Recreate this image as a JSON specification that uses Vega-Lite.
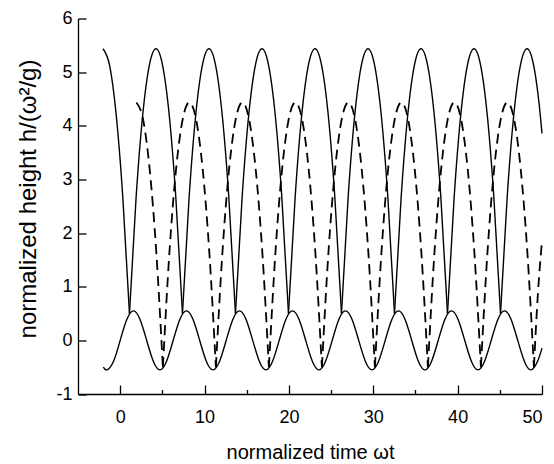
{
  "$schema": "https://vega.github.io/schema/vega-lite/v6.json",
  "width": 464,
  "height": 375.5,
  "autosize": {"type": "none"},
  "padding": {"left": 78, "top": 18.5, "right": 12, "bottom": 70},
  "background": "white",
  "config": {
    "view": {"stroke": null},
    "axis": {
      "domainColor": "black", "tickColor": "black", "labelColor": "black", "titleColor": "black",
      "labelFont": "Liberation Sans", "titleFont": "Liberation Sans",
      "labelFontSize": 18, "titleFontSize": 20, "titleFontWeight": "normal",
      "grid": false, "domainWidth": 1.3, "tickWidth": 1.3
    }
  },
  "datasets": {
    "table": [
      {"t":-2,"h":-0.5},{"t":-1.571,"h":-0.55},{"t":-0.785,"h":-0.389},{"t":0,"h":0},{"t":0.785,"h":0.389},{"t":1.571,"h":0.55},{"t":2.356,"h":0.389},{"t":3.142,"h":0},{"t":3.927,"h":-0.389},{"t":4.712,"h":-0.55},{"t":5.498,"h":-0.389},{"t":6.283,"h":0},{"t":7.069,"h":0.389},{"t":7.854,"h":0.55},{"t":8.639,"h":0.389},{"t":9.425,"h":0},{"t":10.21,"h":-0.389},{"t":10.996,"h":-0.55},{"t":11.781,"h":-0.389},{"t":12.566,"h":0},{"t":13.352,"h":0.389},{"t":14.137,"h":0.55},{"t":14.923,"h":0.389},{"t":15.708,"h":0},{"t":16.493,"h":-0.389},{"t":17.279,"h":-0.55},{"t":18.064,"h":-0.389},{"t":18.85,"h":0},{"t":19.635,"h":0.389},{"t":20.42,"h":0.55},{"t":21.206,"h":0.389},{"t":21.991,"h":0},{"t":22.777,"h":-0.389},{"t":23.562,"h":-0.55},{"t":24.347,"h":-0.389},{"t":25.133,"h":0},{"t":25.918,"h":0.389},{"t":26.704,"h":0.55},{"t":27.489,"h":0.389},{"t":28.274,"h":0},{"t":29.06,"h":-0.389},{"t":29.845,"h":-0.55},{"t":30.631,"h":-0.389},{"t":31.416,"h":0},{"t":32.201,"h":0.389},{"t":32.987,"h":0.55},{"t":33.772,"h":0.389},{"t":34.558,"h":0},{"t":35.343,"h":-0.389},{"t":36.128,"h":-0.55},{"t":36.914,"h":-0.389},{"t":37.699,"h":0},{"t":38.485,"h":0.389},{"t":39.27,"h":0.55},{"t":40.055,"h":0.389},{"t":40.841,"h":0},{"t":41.626,"h":-0.389},{"t":42.412,"h":-0.55},{"t":43.197,"h":-0.389},{"t":43.982,"h":0},{"t":44.768,"h":0.389},{"t":45.553,"h":0.55},{"t":46.338,"h":0.389},{"t":47.124,"h":0},{"t":47.909,"h":-0.389},{"t":48.695,"h":-0.55},{"t":49.48,"h":-0.389},{"t":50,"h":-0.144}
    ],
    "solid": [
      {"g":0,"t":-2.041,"h":5.435},{"g":0,"t":-1.256,"h":5.126},{"g":0,"t":-0.471,"h":4.201},{"g":0,"t":0.315,"h":2.659},{"g":0,"t":1.1,"h":0.5},
      {"g":1,"t":1.1,"h":0.5},{"g":1,"t":1.885,"h":2.659},{"g":1,"t":2.671,"h":4.201},{"g":1,"t":3.456,"h":5.126},{"g":1,"t":4.242,"h":5.435},{"g":1,"t":5.027,"h":5.126},{"g":1,"t":5.812,"h":4.201},{"g":1,"t":6.598,"h":2.659},{"g":1,"t":7.383,"h":0.5},
      {"g":2,"t":7.383,"h":0.5},{"g":2,"t":8.168,"h":2.659},{"g":2,"t":8.954,"h":4.201},{"g":2,"t":9.739,"h":5.126},{"g":2,"t":10.525,"h":5.435},{"g":2,"t":11.31,"h":5.126},{"g":2,"t":12.095,"h":4.201},{"g":2,"t":12.881,"h":2.659},{"g":2,"t":13.666,"h":0.5},
      {"g":3,"t":13.666,"h":0.5},{"g":3,"t":14.451,"h":2.659},{"g":3,"t":15.237,"h":4.201},{"g":3,"t":16.022,"h":5.126},{"g":3,"t":16.808,"h":5.435},{"g":3,"t":17.593,"h":5.126},{"g":3,"t":18.378,"h":4.201},{"g":3,"t":19.164,"h":2.659},{"g":3,"t":19.95,"h":0.5},
      {"g":4,"t":19.95,"h":0.5},{"g":4,"t":20.735,"h":2.659},{"g":4,"t":21.521,"h":4.201},{"g":4,"t":22.306,"h":5.126},{"g":4,"t":23.092,"h":5.435},{"g":4,"t":23.877,"h":5.126},{"g":4,"t":24.662,"h":4.201},{"g":4,"t":25.448,"h":2.659},{"g":4,"t":26.233,"h":0.5},
      {"g":5,"t":26.233,"h":0.5},{"g":5,"t":27.018,"h":2.659},{"g":5,"t":27.804,"h":4.201},{"g":5,"t":28.589,"h":5.126},{"g":5,"t":29.375,"h":5.435},{"g":5,"t":30.16,"h":5.126},{"g":5,"t":30.945,"h":4.201},{"g":5,"t":31.731,"h":2.659},{"g":5,"t":32.516,"h":0.5},
      {"g":6,"t":32.516,"h":0.5},{"g":6,"t":33.301,"h":2.659},{"g":6,"t":34.087,"h":4.201},{"g":6,"t":34.872,"h":5.126},{"g":6,"t":35.658,"h":5.435},{"g":6,"t":36.443,"h":5.126},{"g":6,"t":37.228,"h":4.201},{"g":6,"t":38.014,"h":2.659},{"g":6,"t":38.799,"h":0.5},
      {"g":7,"t":38.799,"h":0.5},{"g":7,"t":39.584,"h":2.659},{"g":7,"t":40.37,"h":4.201},{"g":7,"t":41.155,"h":5.126},{"g":7,"t":41.941,"h":5.435},{"g":7,"t":42.726,"h":5.126},{"g":7,"t":43.511,"h":4.201},{"g":7,"t":44.297,"h":2.659},{"g":7,"t":45.083,"h":0.5},
      {"g":8,"t":45.083,"h":0.5},{"g":8,"t":45.868,"h":2.659},{"g":8,"t":46.654,"h":4.201},{"g":8,"t":47.439,"h":5.126},{"g":8,"t":48.225,"h":5.435},{"g":8,"t":49.01,"h":5.126},{"g":8,"t":49.795,"h":4.201},{"g":8,"t":50,"h":3.858}
    ],
    "dashed": [
      {"g":0,"t":1.918,"h":4.435},{"g":0,"t":2.703,"h":4.126},{"g":0,"t":3.489,"h":3.201},{"g":0,"t":4.274,"h":1.659},{"g":0,"t":5.06,"h":-0.5},
      {"g":1,"t":5.06,"h":-0.5},{"g":1,"t":5.845,"h":1.659},{"g":1,"t":6.631,"h":3.201},{"g":1,"t":7.416,"h":4.126},{"g":1,"t":8.202,"h":4.435},{"g":1,"t":8.987,"h":4.126},{"g":1,"t":9.772,"h":3.201},{"g":1,"t":10.558,"h":1.659},{"g":1,"t":11.343,"h":-0.5},
      {"g":2,"t":11.343,"h":-0.5},{"g":2,"t":12.128,"h":1.659},{"g":2,"t":12.914,"h":3.201},{"g":2,"t":13.699,"h":4.126},{"g":2,"t":14.485,"h":4.435},{"g":2,"t":15.27,"h":4.126},{"g":2,"t":16.055,"h":3.201},{"g":2,"t":16.841,"h":1.659},{"g":2,"t":17.626,"h":-0.5},
      {"g":3,"t":17.626,"h":-0.5},{"g":3,"t":18.411,"h":1.659},{"g":3,"t":19.197,"h":3.201},{"g":3,"t":19.982,"h":4.126},{"g":3,"t":20.768,"h":4.435},{"g":3,"t":21.553,"h":4.126},{"g":3,"t":22.338,"h":3.201},{"g":3,"t":23.124,"h":1.659},{"g":3,"t":23.91,"h":-0.5},
      {"g":4,"t":23.91,"h":-0.5},{"g":4,"t":24.695,"h":1.659},{"g":4,"t":25.481,"h":3.201},{"g":4,"t":26.266,"h":4.126},{"g":4,"t":27.052,"h":4.435},{"g":4,"t":27.837,"h":4.126},{"g":4,"t":28.622,"h":3.201},{"g":4,"t":29.408,"h":1.659},{"g":4,"t":30.193,"h":-0.5},
      {"g":5,"t":30.193,"h":-0.5},{"g":5,"t":30.978,"h":1.659},{"g":5,"t":31.764,"h":3.201},{"g":5,"t":32.549,"h":4.126},{"g":5,"t":33.335,"h":4.435},{"g":5,"t":34.12,"h":4.126},{"g":5,"t":34.905,"h":3.201},{"g":5,"t":35.691,"h":1.659},{"g":5,"t":36.476,"h":-0.5},
      {"g":6,"t":36.476,"h":-0.5},{"g":6,"t":37.261,"h":1.659},{"g":6,"t":38.047,"h":3.201},{"g":6,"t":38.832,"h":4.126},{"g":6,"t":39.618,"h":4.435},{"g":6,"t":40.403,"h":4.126},{"g":6,"t":41.188,"h":3.201},{"g":6,"t":41.974,"h":1.659},{"g":6,"t":42.759,"h":-0.5},
      {"g":7,"t":42.759,"h":-0.5},{"g":7,"t":43.544,"h":1.659},{"g":7,"t":44.33,"h":3.201},{"g":7,"t":45.115,"h":4.126},{"g":7,"t":45.901,"h":4.435},{"g":7,"t":46.686,"h":4.126},{"g":7,"t":47.471,"h":3.201},{"g":7,"t":48.257,"h":1.659},{"g":7,"t":49.042,"h":-0.5},
      {"g":8,"t":49.042,"h":-0.5},{"g":8,"t":49.5,"h":0.834},{"g":8,"t":50,"h":1.85}
    ]
  },
  "layer": [
    {
      "data": {"name": "table"},
      "mark": {"type": "line", "interpolate": "natural", "color": "black", "strokeWidth": 1.4},
      "encoding": {
        "x": {"field": "t", "type": "quantitative",
          "scale": {"domain": [-5, 50], "nice": false, "zero": false},
          "axis": {"orient": "bottom", "values": [0, 5, 10, 15, 20, 25, 30, 35, 40, 45, 50],
            "tickSize": {"condition": {"test": "datum.value % 10 !== 0", "value": -4.5}, "value": -9},
            "labelExpr": "datum.value % 10 === 0 ? '' + datum.value : ''",
            "labelPadding": 23,
            "title": "normalized time ωt", "titleY": 64, "titleBaseline": "alphabetic"}},
        "y": {"field": "h", "type": "quantitative",
          "scale": {"domain": [-1, 6], "nice": false, "zero": false},
          "axis": {"orient": "left", "values": [-1, -0.5, 0, 0.5, 1, 1.5, 2, 2.5, 3, 3.5, 4, 4.5, 5, 5.5, 6],
            "tickSize": {"condition": {"test": "datum.value % 1 !== 0", "value": -4.5}, "value": -8},
            "labelExpr": "datum.value % 1 === 0 ? '' + datum.value : ''",
            "labelPadding": 14,
            "title": "normalized height h/(ω²/g)", "titleFontSize": 24, "titleX": -43, "titleY": 180,
            "titleAngle": -90, "titleBaseline": "alphabetic", "titleAlign": "center"}}
      }
    },
    {
      "data": {"name": "solid"},
      "mark": {"type": "line", "interpolate": "monotone", "color": "black", "strokeWidth": 1.4},
      "encoding": {
        "x": {"field": "t", "type": "quantitative"},
        "y": {"field": "h", "type": "quantitative"},
        "detail": {"field": "g", "type": "nominal"}
      }
    },
    {
      "data": {"name": "dashed"},
      "mark": {"type": "line", "interpolate": "monotone", "color": "black", "strokeWidth": 1.8, "strokeDash": [10, 6]},
      "encoding": {
        "x": {"field": "t", "type": "quantitative"},
        "y": {"field": "h", "type": "quantitative"},
        "detail": {"field": "g", "type": "nominal"}
      }
    }
  ]
}
